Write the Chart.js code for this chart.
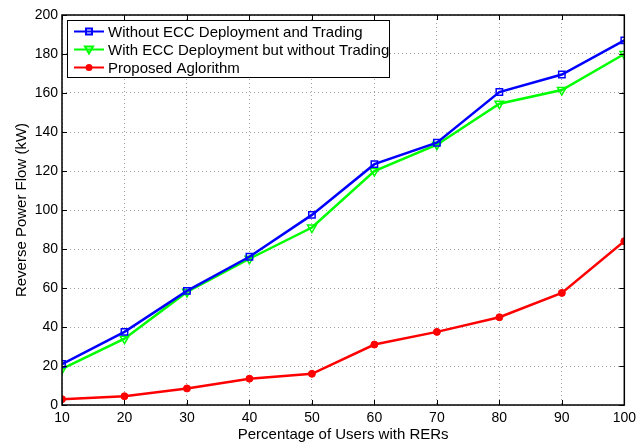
<!DOCTYPE html>
<html>
<head>
<meta charset="utf-8">
<script src="https://cdn.jsdelivr.net/npm/chart.js@4.4.0/dist/chart.umd.min.js"></script>
<style>
  html, body { margin: 0; padding: 0; background: #fff; }
  #wrap { width: 641px; height: 444px; position: relative; }
</style>
</head>
<body>
<div id="wrap"><canvas id="rpf"></canvas></div>
<script>
const users = [10, 20, 30, 40, 50, 60, 70, 80, 90, 100];
const noEcc = [21, 37.5, 58.5, 76, 97.5, 123.5, 134.5, 160.5, 169.5, 187];
const eccNoTrade = [18.5, 34, 58, 75, 91, 120, 133.5, 154.5, 161.5, 180];
const proposed = [3, 4.5, 8.5, 13.5, 16, 31, 37.5, 45, 57.5, 84];
const seriesNames = ['Without ECC Deployment and Trading', 'With ECC Deployment but without Trading', 'Proposed Aglorithm'];
const yTicks = [0, 20, 40, 60, 80, 100, 120, 140, 160, 180, 200];

const FONT = 'Liberation Sans, Arial, Helvetica, sans-serif';

function pts(vals) {
  return users.map((u, i) => ({ x: u, y: vals[i] }));
}

// box round the plot, inside ticks and the legend in the upper left corner
const matlabFrame = {
  id: 'matlabFrame',
  afterDraw(chart) {
    const ctx = chart.ctx;
    const a = chart.chartArea;
    const xs = chart.scales.x, ys = chart.scales.y;
    ctx.save();
    ctx.strokeStyle = '#000';
    ctx.lineWidth = 1;
    ctx.beginPath();
    users.forEach(u => {
      const px = Math.round(xs.getPixelForValue(u)) + 0.5;
      ctx.moveTo(px, a.bottom); ctx.lineTo(px, a.bottom - 5);
      ctx.moveTo(px, a.top); ctx.lineTo(px, a.top + 5);
    });
    yTicks.forEach(v => {
      const py = Math.round(ys.getPixelForValue(v)) + 0.5;
      ctx.moveTo(a.left, py); ctx.lineTo(a.left + 5, py);
      ctx.moveTo(a.right, py); ctx.lineTo(a.right - 5, py);
    });
    ctx.stroke();
    ctx.lineWidth = 1.5;
    ctx.strokeRect(a.left, a.top, a.right - a.left, a.bottom - a.top);

    // legend
    const lx = a.left + 5, ly = a.top + 5, lw = 322, lh = 57;
    ctx.fillStyle = '#fff';
    ctx.fillRect(lx, ly, lw, lh);
    ctx.lineWidth = 1;
    ctx.strokeRect(lx + 0.5, ly + 0.5, lw, lh);
    ctx.font = '15px ' + FONT;
    ctx.textBaseline = 'middle';
    chart.data.datasets.forEach((ds, i) => {
      const ry = ly + 11.5 + i * 18;
      ctx.strokeStyle = ds.borderColor;
      ctx.lineWidth = 2;
      ctx.beginPath();
      ctx.moveTo(lx + 7, ry); ctx.lineTo(lx + 37, ry);
      ctx.stroke();
      const cx = lx + 22;
      if (i === 0) {
        ctx.strokeRect(cx - 3, ry - 3, 6, 6);
      } else if (i === 1) {
        ctx.beginPath();
        ctx.moveTo(cx - 4, ry - 3); ctx.lineTo(cx + 4, ry - 3); ctx.lineTo(cx, ry + 4);
        ctx.closePath(); ctx.stroke();
      } else {
        ctx.fillStyle = ds.borderColor;
        ctx.beginPath(); ctx.arc(cx, ry, 3.5, 0, Math.PI * 2); ctx.fill();
      }
      ctx.fillStyle = '#000';
      ctx.fillText(ds.label, lx + 41, ry + 1);
    });
    ctx.restore();
  }
};

new Chart(document.getElementById('rpf'), {
  type: 'line',
  data: {
    datasets: [
      {
        label: seriesNames[0],
        data: pts(noEcc),
        borderColor: '#0000ff',
        backgroundColor: 'rgba(0,0,0,0)',
        borderWidth: 2.5,
        pointStyle: 'rect',
        pointRadius: 4.5,
        pointBorderWidth: 1.5,
        pointBorderColor: '#0000ff',
        pointBackgroundColor: 'rgba(0,0,0,0)'
      },
      {
        label: seriesNames[1],
        data: pts(eccNoTrade),
        borderColor: '#00ff00',
        backgroundColor: 'rgba(0,0,0,0)',
        borderWidth: 2.5,
        pointStyle: 'triangle',
        rotation: 180,
        pointRadius: 5,
        pointBorderWidth: 1.5,
        pointBorderColor: '#00ff00',
        pointBackgroundColor: 'rgba(0,0,0,0)'
      },
      {
        label: seriesNames[2],
        data: pts(proposed),
        borderColor: '#ff0000',
        backgroundColor: '#ff0000',
        borderWidth: 2.5,
        pointStyle: 'circle',
        pointRadius: 3.5,
        pointBorderWidth: 1,
        pointBorderColor: '#ff0000',
        pointBackgroundColor: '#ff0000'
      }
    ]
  },
  options: {
    responsive: true,
    maintainAspectRatio: false,
    animation: false,
    layout: { padding: { top: 15, right: 12, left: 0, bottom: 0 } },
    plugins: { legend: { display: false }, tooltip: { enabled: false } },
    scales: {
      x: {
        type: 'linear',
        min: 10,
        max: 100,
        afterBuildTicks(scale) { scale.ticks = users.map(v => ({ value: v })); },
        afterFit(scale) { scale.height = 39; },
        grid: { color: '#a0a0a0', lineWidth: 1, drawTicks: false },
        border: { display: false, dash: [1, 3] },
        ticks: { color: '#000', font: { family: FONT, size: 14 }, padding: 5, maxRotation: 0 },
        title: { display: true, text: 'Percentage of Users with RERs', color: '#000', font: { family: FONT, size: 15 }, padding: { top: 0, bottom: 0 } }
      },
      y: {
        min: 0,
        max: 200,
        afterBuildTicks(scale) { scale.ticks = yTicks.map(v => ({ value: v })); },
        afterFit(scale) { scale.width = 62; },
        grid: { color: '#a0a0a0', lineWidth: 1, drawTicks: false },
        border: { display: false, dash: [1, 3] },
        ticks: { color: '#000', font: { family: FONT, size: 14 }, padding: 4 },
        title: { display: true, text: 'Reverse Power Flow (kW)', color: '#000', font: { family: FONT, size: 15 }, padding: { top: 13, bottom: 0 } }
      }
    }
  },
  plugins: [matlabFrame]
});
</script>
</body>
</html>
